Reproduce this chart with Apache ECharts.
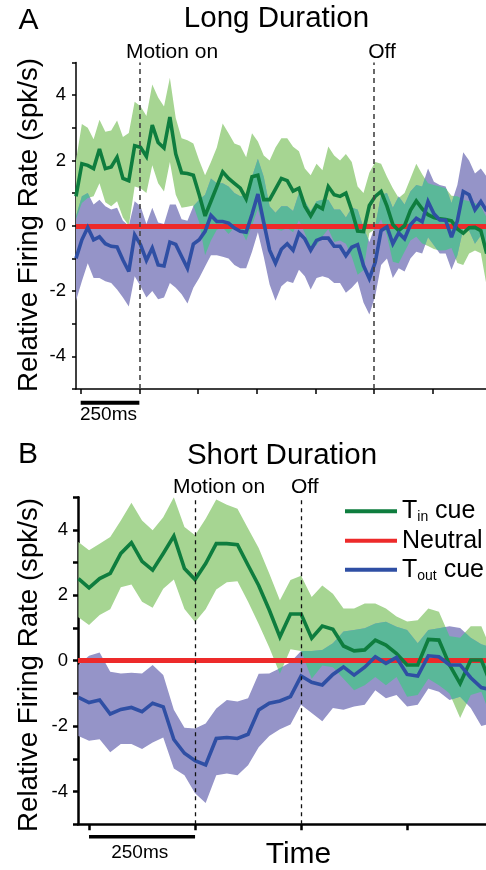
<!DOCTYPE html>
<html><head><meta charset="utf-8">
<script src="https://cdn.jsdelivr.net/npm/echarts@6/dist/echarts.min.js"></script>
<style>html,body{margin:0;padding:0;background:#fff}#c{width:486px;height:870px}</style>
</head><body><div id="c"></div>
<script>
// ---------- Panel A : Long Duration (time in ms relative to motion onset) ----------
const timesA = [-270,-245,-220,-195,-170,-145,-120,-95,-70,-45,-20,5,30,55,80,105,130,155,180,205,230,255,280,305,330,355,380,405,430,455,480,505,530,555,580,605,630,655,680,705,730,755,780,805,830,855,880,905,930,955,980,1005,1030,1055,1080,1105,1130,1155,1180,1205,1230,1255,1280,1305,1330,1355,1380,1405,1430,1455,1480];
const tinMeanA = [0.9,1.9,1.85,1.75,2.35,1.75,1.8,2.1,1.45,1.38,2.45,2.4,2.12,3.08,2.55,2.38,3.33,2.2,1.62,1.6,1.55,0.95,0.3,0.75,1.2,1.65,1.45,1.3,1.15,0.82,1.5,1.55,0.8,0.8,1.12,1.45,1.38,1.06,1.15,0.6,0.3,0.62,0.52,1.2,0.95,0.9,1.0,0.47,-0.16,-0.18,0.62,0.9,1.05,0.6,0.04,-0.15,0.0,0.47,0.76,0.52,0.34,0.25,0.21,0.19,0.15,-0.1,-0.23,-0.06,-0.05,-0.15,-0.85];
const tinUpA = [2.0,3.12,3.0,2.65,3.25,2.88,2.92,3.22,2.72,2.84,3.8,3.66,3.36,4.33,3.93,3.65,4.53,3.3,2.68,2.62,2.52,2.0,1.55,1.95,2.4,3.13,2.83,2.52,2.45,2.1,2.83,2.58,2.15,2.0,2.4,2.68,2.68,2.42,2.28,1.75,1.55,1.9,1.7,2.43,2.15,2.0,2.2,1.95,1.2,1.0,1.62,1.95,1.9,1.5,1.15,0.85,1.0,1.45,1.9,1.58,1.3,1.25,1.2,1.15,0.92,0.9,0.8,0.75,0.7,0.6,0.25];
const tinLoA = [0.2,0.7,0.85,0.9,1.3,0.72,0.6,0.75,0.25,0.0,1.2,1.15,1.0,1.85,1.3,1.05,1.95,0.95,0.55,0.58,0.62,0.1,-0.9,-0.45,-0.12,-0.05,-0.25,-0.05,-0.1,-0.45,0.0,0.52,-0.15,-0.05,-0.1,-0.15,-0.07,-0.2,0.17,-0.23,-0.7,-0.6,-0.33,-0.1,-0.5,-0.45,-0.55,-0.95,-1.5,-1.36,-0.22,-0.11,0.2,-0.3,-1.1,-1.15,-0.8,-0.45,-0.34,-0.54,-0.62,-0.71,-0.76,-0.75,-0.68,-1.14,-1.2,-0.85,-0.76,-0.84,-1.85];
const toutMeanA = [-1.0,-0.43,-0.05,-0.43,-0.34,-0.55,-0.63,-0.65,-1.05,-1.4,-0.28,-0.58,-1.06,-0.68,-1.2,-1.23,-0.5,-0.57,-0.94,-1.3,-0.56,-0.43,-0.17,0.32,0.13,0.13,0.08,-0.07,-0.17,-0.2,0.35,0.97,0.1,-0.75,-1.15,-0.72,-0.55,-0.75,-0.22,-0.4,-0.75,-0.45,-0.38,-0.38,-0.63,-0.63,-0.92,-0.66,-0.58,-1.22,-1.62,-1.12,-0.15,-0.03,-0.55,-0.22,-0.4,0.03,0.23,0.12,0.74,0.37,0.18,0.17,-0.35,0.15,1.05,0.95,0.49,0.74,0.45];
const toutUpA = [0.3,0.9,1.0,0.65,0.8,0.6,0.5,0.55,0.15,0.0,0.75,0.6,0.05,0.55,0.1,0.05,0.65,0.65,0.2,0.15,0.6,0.8,0.95,1.45,1.3,1.3,1.2,1.0,0.9,0.95,1.5,2.05,1.5,0.6,0.4,0.6,0.6,0.45,1.0,0.75,0.45,0.75,0.8,0.8,0.5,0.5,0.25,0.55,0.5,-0.05,-0.5,0.0,0.95,1.0,0.55,0.9,0.65,1.05,1.25,1.2,1.75,1.35,1.25,1.2,0.7,1.25,2.25,2.0,1.6,1.75,1.5];
const toutLoA = [-2.3,-1.7,-1.15,-1.6,-1.6,-1.7,-1.75,-1.95,-2.2,-2.47,-1.55,-1.85,-2.2,-2.0,-2.25,-2.2,-1.75,-1.9,-2.1,-2.38,-1.9,-1.6,-1.25,-0.9,-0.9,-0.95,-1.0,-1.2,-1.3,-1.3,-0.8,-0.2,-0.95,-1.8,-2.3,-1.85,-1.7,-1.75,-1.35,-1.55,-1.95,-1.6,-1.55,-1.6,-1.75,-1.75,-2.05,-1.9,-1.7,-2.35,-2.72,-2.15,-1.2,-1.0,-1.6,-1.3,-1.4,-1.0,-0.8,-0.85,-0.35,-0.6,-0.85,-0.85,-1.35,-0.9,-0.1,-0.15,-0.55,-0.3,-0.6];
const eventsA = [0, 1000];            // Motion on, Off
const ticksA = [-250,0,250,500,750,1000,1250];

// ---------- Panel B : Short Duration ----------
const timesB = [-275,-250,-225,-200,-175,-150,-125,-100,-75,-50,-25,0,25,50,75,100,125,150,175,200,225,250,275,300,325,350,375,400,425,450,475,500,525,550,575,600,625,650,675,700];
const tinMeanB = [2.51,2.23,2.51,2.67,3.28,3.61,3.04,2.77,3.28,3.81,2.82,2.48,2.97,3.58,3.58,3.55,2.92,2.3,1.55,0.73,1.43,1.43,0.69,1.06,0.96,0.45,0.3,0.33,0.63,0.48,0.22,-0.13,-0.13,0.65,0.63,-0.13,-0.7,0.02,0.02,-0.8];
const tinUpB = [3.63,3.38,3.58,3.78,4.29,4.83,4.29,3.99,4.39,5.0,4.09,3.84,4.34,4.93,4.77,4.65,4.04,3.45,2.67,1.85,2.47,2.6,1.95,2.3,2.05,1.6,1.6,1.75,1.75,1.6,1.35,1.2,1.24,1.6,1.5,0.75,0.7,1.05,1.05,0.3];
const tinLoB = [1.33,1.09,1.4,1.57,2.25,2.33,1.8,1.62,2.2,2.48,1.58,1.18,1.57,2.18,2.4,2.43,1.8,1.12,0.4,-0.4,0.35,0.3,-0.55,-0.15,-0.2,-0.55,-0.9,-0.75,-0.5,-0.75,-0.5,-1.1,-1.05,-0.55,-0.75,-1.0,-1.75,-1.05,-0.95,-1.8];
const toutMeanB = [-1.12,-1.28,-1.2,-1.63,-1.49,-1.43,-1.56,-1.3,-1.41,-2.41,-2.83,-3.06,-3.19,-2.38,-2.35,-2.38,-2.25,-1.51,-1.3,-1.23,-1.1,-0.47,-0.66,-0.74,-0.42,-0.19,-0.44,-0.2,0.12,-0.08,0.1,-0.42,-0.47,0.15,0.12,-0.13,-0.13,-0.52,-0.82,-0.9];
const toutUpB = [-0.13,0.15,0.25,-0.34,-0.39,-0.37,-0.39,-0.13,-0.44,-1.5,-2.05,-2.07,-1.92,-1.46,-1.2,-1.25,-1.15,-0.4,-0.39,-0.23,-0.05,0.3,0.3,0.33,0.53,0.89,0.94,0.99,1.14,1.19,1.04,0.94,0.53,0.94,0.99,1.05,1.0,0.7,0.5,0.4];
const toutLoB = [-2.3,-2.45,-2.4,-2.8,-2.55,-2.55,-2.7,-2.5,-2.35,-3.3,-3.5,-4.05,-4.35,-3.5,-3.45,-3.5,-3.2,-2.65,-2.3,-2.1,-1.95,-1.35,-1.6,-1.85,-1.45,-1.5,-1.4,-1.35,-0.9,-1.15,-1.05,-1.4,-1.35,-0.85,-0.95,-1.2,-1.1,-1.45,-2.0,-1.9];
const eventsB = [0, 250];
const ticksB = [-250,0,250,500];

const yTickLabels = [-4,-2,0,2,4];
const scaleBar = [-250, 0];   // 250 ms
const neutralLevel = 0;

// ---------- styling ----------
const FONT = "'Liberation Sans', Arial, Helvetica, sans-serif";
const C_GBAND = '#a6d592', C_BBAND = '#9594c8', C_OVER = '#5ab899';
const C_GLINE = '#0e7d3e', C_BLINE = '#2f4fa4', C_RED = '#ed2a2a';

function zip(t, v) { return t.map((x, i) => [x, v[i]]); }
function band(t, up, lo) {
  const p = [];
  for (let i = 0; i < t.length; i++) p.push([t[i], up[i]]);
  for (let i = t.length - 1; i >= 0; i--) p.push([t[i], lo[i]]);
  return [p];
}
function overlapPolys(t, gU, gL, bU, bL) {
  const polys = []; let top = [], bot = [];
  const lerp = (a, i, s) => a[i] + (a[i + 1] - a[i]) * s;
  const pairs = [[gU, bU], [gL, bL], [gU, bL], [bU, gL]];
  const close = () => { if (top.length > 1) polys.push(top.concat(bot.slice().reverse())); top = []; bot = []; };
  for (let i = 0; i < t.length - 1; i++) {
    const ss = [0, 1];
    for (const [f, g] of pairs) {
      const d0 = f[i] - g[i], d1 = f[i + 1] - g[i + 1];
      if (d0 * d1 < 0) ss.push(d0 / (d0 - d1));
    }
    ss.sort((a, b) => a - b);
    const pt = s => [t[i] + (t[i + 1] - t[i]) * s,
      Math.min(lerp(gU, i, s), lerp(bU, i, s)), Math.max(lerp(gL, i, s), lerp(bL, i, s))];
    for (let j = 0; j < ss.length - 1; j++) {
      const a = ss[j], b = ss[j + 1];
      if (b - a < 1e-9) continue;
      const m = pt((a + b) / 2);
      if (m[1] > m[2]) {
        if (!top.length) { const p = pt(a); top.push([p[0], p[1]]); bot.push([p[0], p[2]]); }
        const q = pt(b); top.push([q[0], q[1]]); bot.push([q[0], q[2]]);
      } else close();
    }
  }
  close();
  return polys;
}
function polySeries(polys, color, gi) {
  return {
    type: 'custom', xAxisIndex: gi, yAxisIndex: gi, clip: true, silent: true, z: 2,
    data: polys.map(() => [0, 0]),
    renderItem: (params, api) => ({
      type: 'polygon',
      shape: { points: polys[params.dataIndex].map(p => api.coord(p)) },
      style: { fill: color }
    })
  };
}
function meanLine(name, t, v, color, gi) {
  return {
    type: 'line', name, xAxisIndex: gi, yAxisIndex: gi, data: zip(t, v),
    symbol: 'none', showSymbol: false, silent: true, z: 4, color,
    lineStyle: { width: 3.6, color, join: 'miter', miterLimit: 3 }, clip: true
  };
}
function yAxisOpt(gi, w, tl) {
  return {
    type: 'value', gridIndex: gi, min: -5, max: 5, interval: 1,
    axisLine: { show: true, onZero: false, lineStyle: { color: '#000', width: w } },
    axisTick: { show: true, length: tl, lineStyle: { color: '#000', width: w } },
    axisLabel: { fontSize: 18.5, fontFamily: FONT, color: '#000', margin: 10,
      formatter: v => yTickLabels.indexOf(v) >= 0 ? String(v) : '' },
    splitLine: { show: false }
  };
}
function xAxisOpt(gi, min, max, ticks, w, tl) {
  return {
    type: 'value', gridIndex: gi, min, max,
    axisLine: { show: true, onZero: false, lineStyle: { color: '#000', width: w } },
    axisTick: { show: true, customValues: ticks, length: tl, lineStyle: { color: '#000', width: w } },
    axisLabel: { show: false }, splitLine: { show: false }
  };
}
function eventLines(name, ev, gi, color, w, dash) {
  return {
    type: 'line', name, xAxisIndex: gi, yAxisIndex: gi, data: [], silent: true,
    markLine: { silent: true, symbol: ['none', 'none'], label: { show: false }, z: 5,
      lineStyle: { color, width: w, type: dash }, data: ev.map(x => ({ xAxis: x })) }
  };
}
function neutralLine(name, gi) {
  return {
    type: 'line', name, xAxisIndex: gi, yAxisIndex: gi, data: [], silent: true, color: C_RED,
    lineStyle: { color: C_RED, width: 5 },
    markLine: { silent: true, symbol: ['none', 'none'], label: { show: false }, z: 3,
      lineStyle: { color: C_RED, width: 5, type: 'solid' }, data: [{ yAxis: neutralLevel }] }
  };
}

const chart = echarts.init(document.getElementById('c'), null, { renderer: 'canvas', width: 486, height: 870 });
const option = {
  animation: false,
  grid: [
    { left: 76, top: 62.5, width: 410, height: 326.5 },
    { left: 78, top: 497.2, width: 408, height: 327 }
  ],
  xAxis: [xAxisOpt(0, -270, 1477, ticksA, 1.5, 5), xAxisOpt(1, -276, 686, ticksB, 2.5, 6)],
  yAxis: [yAxisOpt(0, 1.5, 4), yAxisOpt(1, 2.5, 5)],
  legend: {
    data: ['Tin', 'Neutral', 'Tout'], orient: 'vertical', left: 345, top: 498.7, padding: 0,
    itemWidth: 52, itemHeight: 4, itemGap: 4, icon: 'rect', selectedMode: false,
    formatter: n => n === 'Tin' ? '{m|T}{s|in}{m| cue}' : n === 'Tout' ? '{m|T}{s|out}{m| cue}' : '{m|Neutral}',
    textStyle: { fontFamily: FONT, fontSize: 25, color: '#000',
      rich: { m: { fontFamily: FONT, fontSize: 25, color: '#000', lineHeight: 26 },
              s: { fontFamily: FONT, fontSize: 14, color: '#000', lineHeight: 12, verticalAlign: 'bottom' } } }
  },
  series: [
    polySeries(band(timesA, tinUpA, tinLoA), C_GBAND, 0),
    polySeries(band(timesA, toutUpA, toutLoA), C_BBAND, 0),
    polySeries(overlapPolys(timesA, tinUpA, tinLoA, toutUpA, toutLoA), C_OVER, 0),
    neutralLine('Neutral A', 0),
    meanLine('Tin A', timesA, tinMeanA, C_GLINE, 0),
    meanLine('Tout A', timesA, toutMeanA, C_BLINE, 0),
    eventLines('ev A', eventsA, 0, '#444', 1.6, [5, 4]),

    polySeries(band(timesB, tinUpB, tinLoB), C_GBAND, 1),
    polySeries(band(timesB, toutUpB, toutLoB), C_BBAND, 1),
    polySeries(overlapPolys(timesB, tinUpB, tinLoB, toutUpB, toutLoB), C_OVER, 1),
    neutralLine('Neutral', 1),
    meanLine('Tin', timesB, tinMeanB, C_GLINE, 1),
    meanLine('Tout', timesB, toutMeanB, C_BLINE, 1),
    eventLines('ev B', eventsB, 1, '#111', 1.3, [4, 4])
  ]
};
chart.setOption(option);

function txt(text, x, y, size, extra) {
  return Object.assign({ type: 'text', x, y, silent: true,
    style: { text, fontSize: size, fontFamily: FONT, fill: '#000',
      textAlign: 'center', textVerticalAlign: 'middle', align: 'center', verticalAlign: 'middle' } }, extra || {});
}
const pxA = v => chart.convertToPixel({ xAxisIndex: 0 }, v);
const pxB = v => chart.convertToPixel({ xAxisIndex: 1 }, v);
const graphic = [
  txt('A', 28.5, 21, 30),
  txt('Long Duration', 276.5, 19, 29.5),
  txt('Motion on', 172, 52.5, 21),
  txt('Off', 382, 52.5, 21),
  txt('Relative Firing Rate (spk/s)', 29, 225, 27.7, { rotation: Math.PI / 2 }),
  { type: 'rect', silent: true, shape: { x: pxA(scaleBar[0]), y: 400.7, width: pxA(scaleBar[1]) - pxA(scaleBar[0]), height: 4 }, style: { fill: '#000' } },
  txt('250ms', 108.5, 415, 19),

  txt('B', 28, 455, 30),
  txt('Short Duration', 282, 456, 29.5),
  txt('Motion on', 219, 487, 21),
  txt('Off', 304.7, 487, 21),
  txt('Relative Firing Rate (spk/s)', 29, 665, 27.7, { rotation: Math.PI / 2 }),
  { type: 'rect', silent: true, shape: { x: pxB(scaleBar[0]), y: 835, width: pxB(scaleBar[1]) - pxB(scaleBar[0]), height: 3.5 }, style: { fill: '#000' } },
  txt('250ms', 139.7, 853, 19),
  txt('Time', 298.5, 855, 30)
];
chart.setOption({ graphic });
</script>
</body></html>
